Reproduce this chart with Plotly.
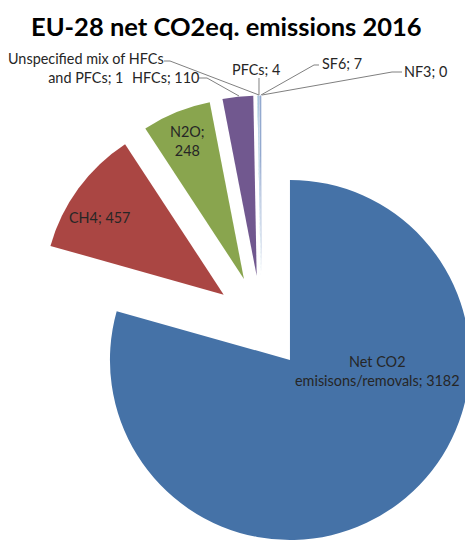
import plotly.graph_objects as go

# ---- data ----
categories = ["Net CO2 emisisons/removals", "CH4", "N2O", "HFCs",
              "Unspecified mix of HFCs and PFCs", "PFCs", "SF6", "NF3"]
values = [3182, 457, 248, 110, 1, 4, 7, 0]
colors = ["#4572A7", "#AA4643", "#89A54E", "#71588F",
          "#4198AF", "#A9C4E0", "#93A9CF", "#D19392"]
title_text = "EU-28 net CO2eq. emissions 2016"

# ---- canvas (figure slightly larger than window; the reference is a crop) ----
W, H = 490, 550
PULL = 0.261

def px(x):
    return x / W

def py(y):
    return 1 - y / H

fig = go.Figure()
fig.add_trace(go.Pie(
    labels=categories,
    values=values,
    sort=False,
    direction="clockwise",
    rotation=0,
    pull=[PULL] * len(values),
    marker=dict(colors=colors, line=dict(width=0)),
    textinfo="none",
    hoverinfo="label+value",
    showlegend=False,
    domain=dict(x=[px(34.6), px(488.6)], y=[py(549.5), py(95.5)]),
))

FONT = dict(family="Lato, 'Open Sans', sans-serif", size=14.4, color="#262626")

def label(text, x, y, align="center"):
    fig.add_annotation(text=text, x=px(x), y=py(y), xref="paper", yref="paper",
                       showarrow=False, font=FONT, align=align,
                       xanchor="center", yanchor="middle")

def v(i):
    return f"{values[i]}"

label(f"Net CO2<br>emisisons/removals; {v(0)}", 377, 371)
label(f"CH4; {v(1)}", 99, 217)
label(f"N2O;<br>{v(2)}", 187, 141)
label(f"HFCs; {v(3)}", 165, 77)
label(f"Unspecified mix of HFCs<br>and PFCs; {v(4)}", 85.5, 68)
label(f"PFCs; {v(5)}", 256, 69)
label(f"SF6; {v(6)}", 342, 64)
label(f"NF3; {v(7)}", 425, 71)

# leader lines
leaders = [
    [(164, 61), (170, 61), (259, 95)],
    [(199, 78), (207, 78), (239, 96)],
    [(259, 78), (259, 95)],
    [(319, 65), (314, 65), (261, 95)],
    [(402, 72), (392, 72), (262, 95)],
]
for pts in leaders:
    path = "M " + " L ".join(f"{px(x):.5f},{py(y):.5f}" for x, y in pts)
    fig.add_shape(type="path", path=path, xref="paper", yref="paper",
                  line=dict(color="#808080", width=1))

fig.add_annotation(text=f"<b>{title_text}</b>", x=px(226), y=py(26),
                   xref="paper", yref="paper", showarrow=False,
                   font=dict(family="Lato, 'Open Sans', sans-serif", size=25.5, color="#000000"),
                   xanchor="center", yanchor="middle")

fig.update_layout(
    width=W, height=H,
    margin=dict(l=0, r=0, t=0, b=0),
    paper_bgcolor="white",
    plot_bgcolor="white",
    showlegend=False,
)

fig.write_html("out.html",
               config={"displayModeBar": False},
               post_script="document.body.style.margin='0';document.body.style.overflow='hidden';document.documentElement.style.overflow='hidden';")
